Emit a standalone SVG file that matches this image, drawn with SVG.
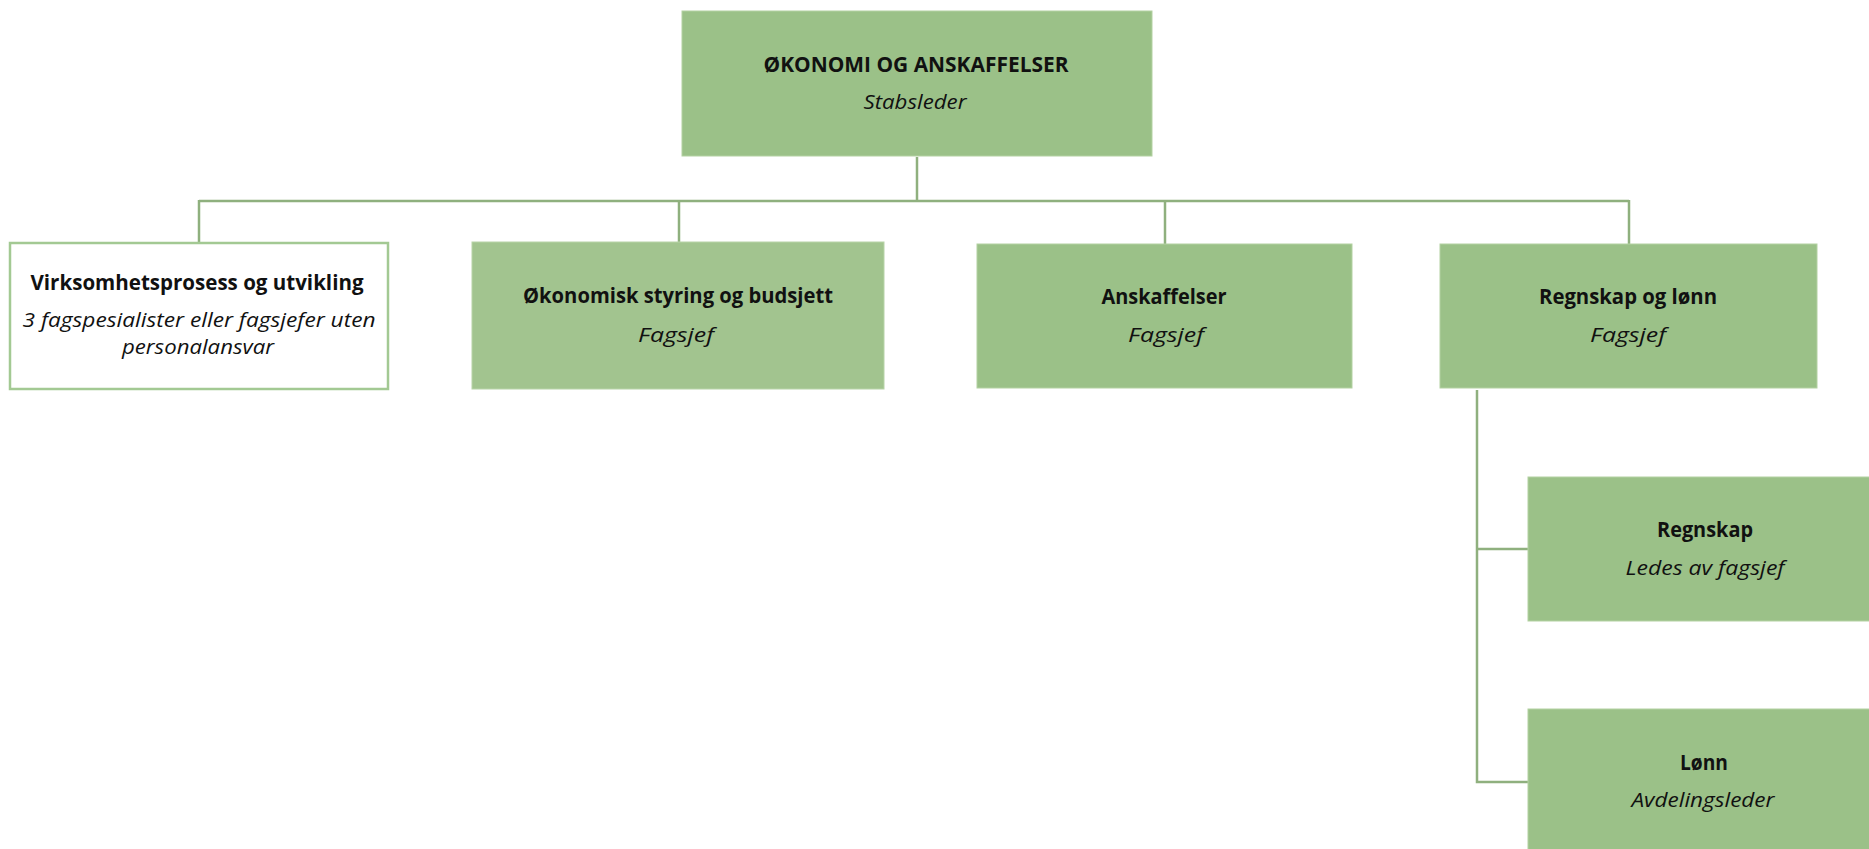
<svg xmlns="http://www.w3.org/2000/svg" width="1869" height="849" viewBox="0 0 1869 849">
<style>
.box{fill:#9bc188;stroke:#b3d1a2;stroke-width:1}
.box2{fill:#a2c48f;stroke:#b8d4a8;stroke-width:1}
.wbox{fill:#ffffff;stroke:#a3c993;stroke-width:2.5}
.t{font-family:"Open Sans","Liberation Sans",sans-serif;font-size:20.5px;font-weight:bold;fill:#111;text-anchor:middle}
.s{font-family:"Open Sans","Liberation Sans",sans-serif;font-size:20.5px;font-style:italic;fill:#111;text-anchor:middle}
.c{fill:none;stroke:#8fb07e;stroke-width:2.5}
</style>
<rect width="1869" height="849" fill="#ffffff"/>
<g id="connectors">
<path class="c" d="M917 157 V201"/>
<path class="c" d="M199 201 H1629"/>
<path class="c" d="M199 200 V243"/>
<path class="c" d="M679 200 V242"/>
<path class="c" d="M1165 200 V244"/>
<path class="c" d="M1629 200 V244"/>
<path class="c" d="M1477 390 V782 H1528"/>
<path class="c" d="M1477 549 H1528"/>
</g>
<g id="n-top">
<rect class="box" x="682" y="11" width="470" height="145"/>
<text class="t" x="916" y="72" textLength="305" lengthAdjust="spacingAndGlyphs">ØKONOMI OG ANSKAFFELSER</text>
<text class="s" x="915" y="109" textLength="103" lengthAdjust="spacingAndGlyphs">Stabsleder</text>
</g>
<g id="n-virksomhet">
<rect class="wbox" x="10" y="243" width="378" height="146"/>
<text class="t" x="197" y="290" textLength="333" lengthAdjust="spacingAndGlyphs">Virksomhetsprosess og utvikling</text>
<text class="s" x="199" y="327" textLength="353" lengthAdjust="spacingAndGlyphs">3 fagspesialister eller fagsjefer uten</text>
<text class="s" x="198" y="354" textLength="152" lengthAdjust="spacingAndGlyphs">personalansvar</text>
</g>
<g id="n-okonomisk">
<rect class="box2" x="472" y="242" width="412" height="147"/>
<text class="t" x="678" y="303" textLength="310" lengthAdjust="spacingAndGlyphs">Økonomisk styring og budsjett</text>
<text class="s" x="676" y="342" textLength="76" lengthAdjust="spacingAndGlyphs">Fagsjef</text>
</g>
<g id="n-anskaffelser">
<rect class="box" x="977" y="244" width="375" height="144"/>
<text class="t" x="1164" y="304" textLength="125" lengthAdjust="spacingAndGlyphs">Anskaffelser</text>
<text class="s" x="1166" y="342" textLength="76" lengthAdjust="spacingAndGlyphs">Fagsjef</text>
</g>
<g id="n-regnskap-lonn">
<rect class="box" x="1440" y="244" width="377" height="144"/>
<text class="t" x="1628" y="304" textLength="178" lengthAdjust="spacingAndGlyphs">Regnskap og lønn</text>
<text class="s" x="1628" y="342" textLength="76" lengthAdjust="spacingAndGlyphs">Fagsjef</text>
</g>
<g id="n-regnskap">
<rect class="box" x="1528" y="477" width="360" height="144"/>
<text class="t" x="1705" y="537" textLength="96" lengthAdjust="spacingAndGlyphs">Regnskap</text>
<text class="s" x="1705" y="575" textLength="159" lengthAdjust="spacingAndGlyphs">Ledes av fagsjef</text>
</g>
<g id="n-lonn">
<rect class="box" x="1528" y="709" width="360" height="160"/>
<text class="t" x="1704" y="770" textLength="48" lengthAdjust="spacingAndGlyphs">Lønn</text>
<text class="s" x="1703" y="807" textLength="143" lengthAdjust="spacingAndGlyphs">Avdelingsleder</text>
</g>
</svg>
